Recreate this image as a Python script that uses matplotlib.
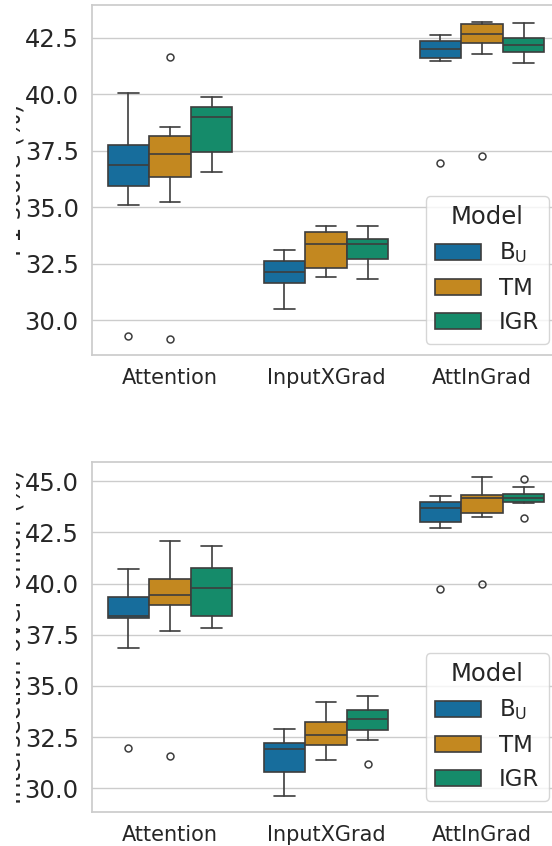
import matplotlib
matplotlib.use("Agg")
import matplotlib.pyplot as plt
from matplotlib.patches import Patch
from matplotlib.ticker import MultipleLocator, FormatStrFormatter
from matplotlib.transforms import Bbox, TransformedBbox
import seaborn as sns

methods = ["Attention", "InputXGrad", "AttInGrad"]
models = ["B$_\\mathrm{U}$", "TM", "IGR"]

# rows = methods, cols = models (B_U, TM, IGR)
f1_whislo = [[35.09, 35.21, 36.54], [30.47, 31.92, 31.82], [41.48, 41.79, 41.41]]
f1_q1 = [[35.92, 36.35, 37.43], [31.66, 32.32, 32.69], [41.61, 42.28, 41.86]]
f1_med = [[36.89, 37.34, 38.99], [32.15, 33.36, 33.39], [42.00, 42.66, 42.20]]
f1_q3 = [[37.74, 38.15, 39.42], [32.62, 33.89, 33.58], [42.35, 43.11, 42.49]]
f1_whishi = [[40.07, 38.57, 39.87], [33.12, 34.17, 34.17], [42.65, 43.22, 43.18]]
f1_fliers = [[[29.30], [41.66, 29.14], []], [[], [], []], [[36.94], [37.29], []]]

iou_whislo = [[36.85, 37.68, 37.83], [29.61, 31.39, 32.35], [42.71, 43.25, 43.91]]
iou_q1 = [[38.30, 38.95, 38.42], [30.82, 32.12, 32.86], [43.02, 43.42, 43.99]]
iou_med = [[38.43, 39.43, 39.77], [31.93, 32.63, 33.38], [43.69, 44.17, 44.17]]
iou_q3 = [[39.35, 40.23, 40.75], [32.24, 33.24, 33.84], [44.00, 44.33, 44.35]]
iou_whishi = [[40.69, 42.09, 41.85], [32.89, 34.23, 34.49], [44.26, 45.18, 44.69]]
iou_fliers = [[[31.98], [31.57], []], [[], [], [31.19]], [[39.74], [40.00], [45.11, 43.20]]]

sns.set_theme(style="whitegrid")
colors = [sns.desaturate(c, 0.75) for c in sns.color_palette("colorblind")[:3]]
line_col = "#3d3d3d"

fig = plt.figure(figsize=(5.52, 8.46), dpi=100)
W, H = 552, 846
ax1 = fig.add_axes([92 / W, 1 - 355 / H, 468 / W, 350 / H])
ax2 = fig.add_axes([92 / W, 1 - 812 / H, 468 / W, 350 / H])

panels = [
    (ax1, f1_whislo, f1_q1, f1_med, f1_q3, f1_whishi, f1_fliers, "F1 score (%)", (28.45, 43.96)),
    (ax2, iou_whislo, iou_q1, iou_med, iou_q3, iou_whishi, iou_fliers, "Intersection over Union (%)", (28.85, 45.93)),
]

# the original figure is trimmed on the left, only a sliver of the y labels shows
label_clip = TransformedBbox(Bbox([[15.5 / W, 0], [1, 1]]), fig.transFigure)

bw = 0.8 / 3
for ax, wlo, q1, med, q3, whi, fl, ylab, ylim in panels:
    for j in range(len(models)):
        stats = []
        pos = []
        for i in range(len(methods)):
            stats.append(dict(whislo=wlo[i][j], q1=q1[i][j], med=med[i][j],
                              q3=q3[i][j], whishi=whi[i][j], fliers=fl[i][j]))
            pos.append(i + (j - 1) * bw)
        ax.bxp(stats, positions=pos, widths=bw, patch_artist=True, manage_ticks=False,
               boxprops=dict(facecolor=colors[j], edgecolor=line_col, linewidth=1.2),
               medianprops=dict(color=line_col, linewidth=1.2),
               whiskerprops=dict(color=line_col, linewidth=1.2),
               capprops=dict(color=line_col, linewidth=1.2),
               capwidths=bw / 2,
               flierprops=dict(marker="o", markersize=5, markerfacecolor="none",
                               markeredgecolor=line_col, markeredgewidth=1.1))
    ax.set_xlim(-0.5, 2.5)
    ax.set_ylim(*ylim)
    ax.yaxis.set_major_locator(MultipleLocator(2.5))
    ax.yaxis.set_major_formatter(FormatStrFormatter("%.1f"))
    ax.set_xticks(range(len(methods)))
    ax.set_xticklabels(methods, fontsize=15)
    ax.tick_params(axis="y", labelsize=17.5)
    ax.xaxis.grid(False)
    ax.set_ylabel(ylab, fontsize=17.5)
    ax.yaxis.set_label_coords(-0.143, 0.5)
    ax.yaxis.label.set_clip_box(label_clip)
    ax.yaxis.label.set_clip_on(True)
    handles = [Patch(facecolor=colors[k], edgecolor=line_col, linewidth=1.2) for k in range(3)]
    leg = ax.legend(handles, models, title="Model", loc="lower right",
                    fontsize=16.5, title_fontsize=17.5)

fig.savefig("out.png", dpi=100)
